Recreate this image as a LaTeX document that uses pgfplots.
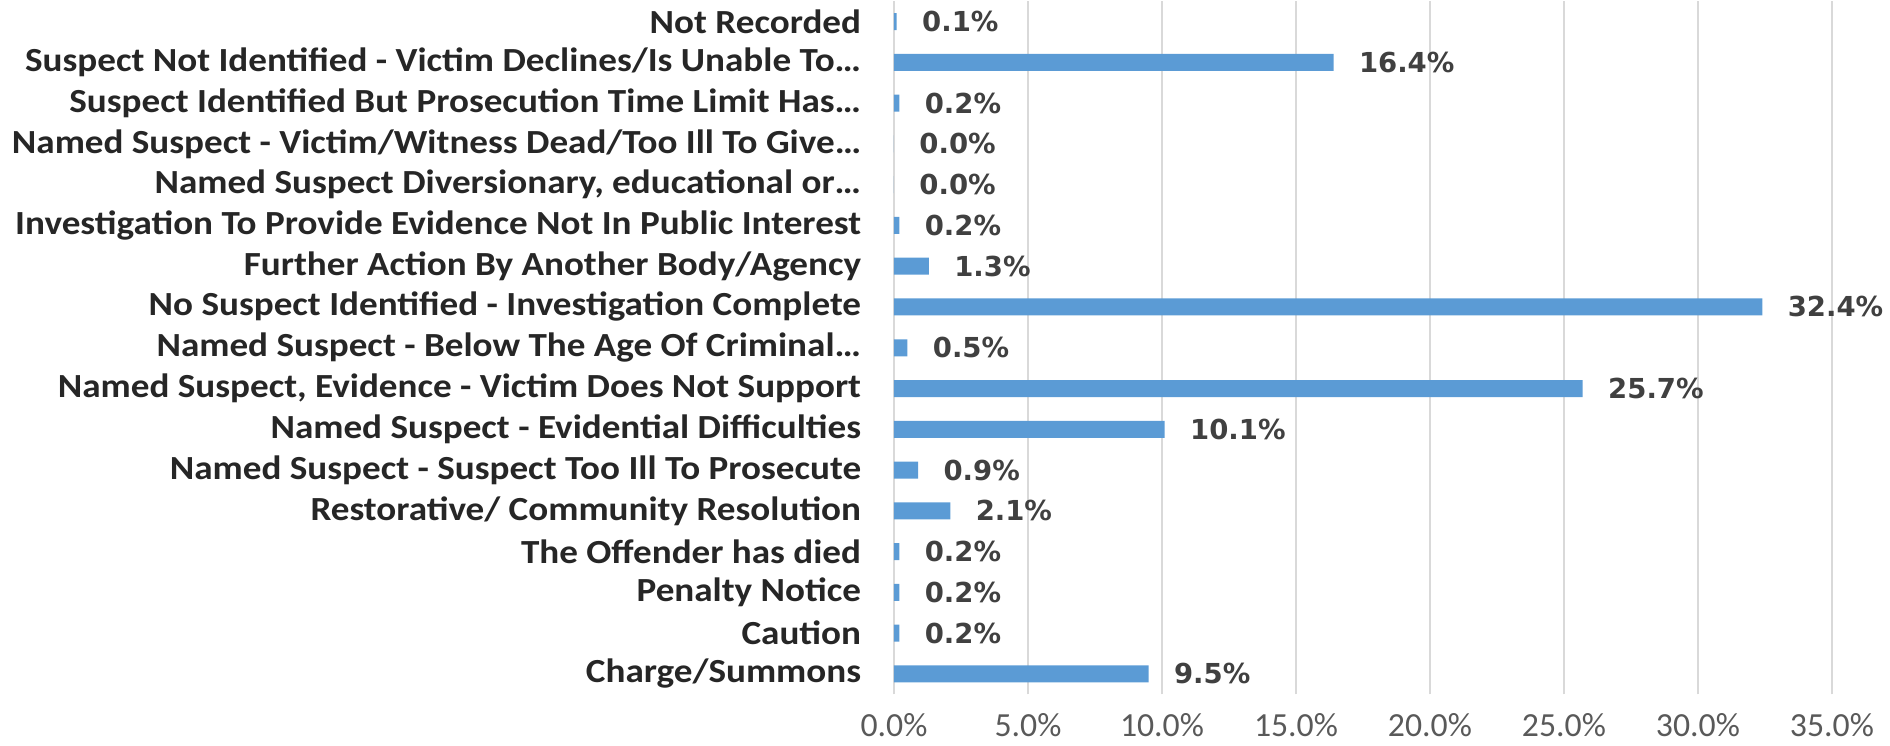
\documentclass[border=0pt]{standalone}
\usepackage{pgfplots}
\pgfplotsset{compat=1.18}
\usepackage{fontspec}
\setmainfont{Carlito}
\newfontfamily\labfont{Carlito}[FakeStretch=1.1]
\newfontfamily\valfont{DejaVu Sans}
\definecolor{barblue}{HTML}{5B9BD5}
\definecolor{labdark}{HTML}{262626}
\definecolor{valgray}{HTML}{404040}
\definecolor{tickgray}{HTML}{595959}
\definecolor{gridgray}{HTML}{D9D9D9}
\newcommand{\el}{\ldots}

\begin{document}
\begin{tikzpicture}
\useasboundingbox (-357.6pt,-20.3pt) rectangle (398.4pt,277.7pt);
\begin{axis}[
    xbar, bar width=6.8pt,
    scale only axis,
    width=375.2pt, height=277.2pt,
    xmin=0, xmax=35, xtick={0,5,10,15,20,25,30,35},
    ymin=-0.5, ymax=16.5,
    ytick={0,1,2,3,4,5,6,7,8,9,10,11,12,13,14,15,16},
    yticklabels={Charge/Summons, Caution, Penalty Notice, The Offender has died,
      Restorative/ Community Resolution, Named Suspect - Suspect Too Ill To Prosecute,
      Named Suspect - Evidential Difficulties, {Named Suspect, Evidence - Victim Does Not Support},
      Named Suspect - Below The Age Of Criminal\el, No Suspect Identified - Investigation Complete,
      Further Action By Another Body/Agency, Investigation To Provide Evidence Not In Public Interest,
      {Named Suspect Diversionary, educational or\el}, Named Suspect - Victim/Witness Dead/Too Ill To Give\el,
      Suspect Identified But Prosecution Time Limit Has\el, Suspect Not Identified - Victim Declines/Is Unable To\el,
      Not Recorded},
    yticklabel style={font=\labfont\fontsize{13.5}{15}\selectfont\bfseries, text=labdark, inner sep=0pt, anchor=east, xshift=-8.7pt},
    xticklabel={\pgfmathprintnumber[fixed,fixed zerofill,precision=1]{\tick}\%},
    xticklabel style={font=\fontsize{13.5}{15}\selectfont, text=tickgray, inner sep=0pt, yshift=-7.5pt},
    /pgf/number format/assume math mode=true,
    axis line style={draw=none},
    major tick style={draw=none},
    xmajorgrids, grid style={gridgray, line width=0.9pt},
    nodes near coords={\pgfmathprintnumber[fixed,fixed zerofill,precision=1]{\pgfplotspointmeta}\%},
    nodes near coords style={font=\valfont\fontsize{11}{12}\selectfont\bfseries, text=valgray, anchor=west, inner sep=0pt, xshift=10pt},
    point meta=x,
    clip=false,
]
\addplot[draw=none, fill=barblue] coordinates {
  (9.5,0) (0.2,1) (0.2,2) (0.2,3) (2.1,4) (0.9,5) (10.1,6) (25.7,7) (0.5,8)
  (32.4,9) (1.3,10) (0.2,11) (0.0,12) (0.0,13) (0.2,14) (16.4,15) (0.1,16)
};
\end{axis}
\end{tikzpicture}
\end{document}
